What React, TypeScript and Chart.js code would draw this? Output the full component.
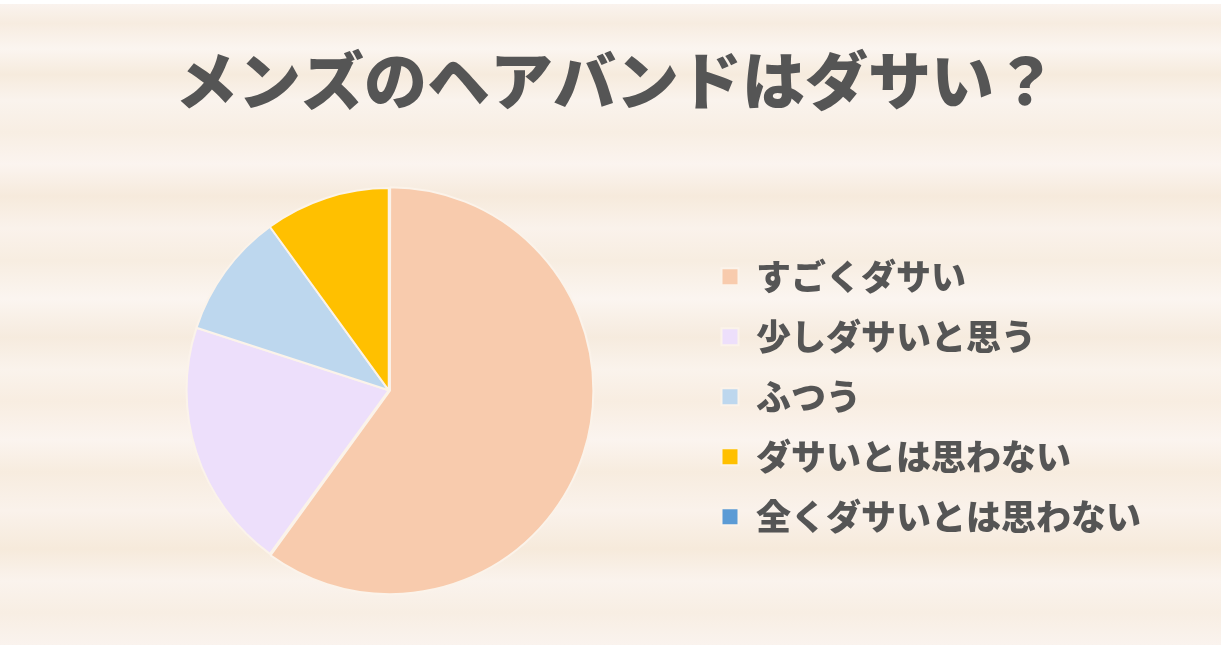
import React, { useEffect, useRef } from "react";
import { Chart, registerables } from "chart.js";

Chart.register(...registerables);

const titleText = "メンズのヘアバンドはダサい？";
const categories = [
  "すごくダサい",
  "少しダサいと思う",
  "ふつう",
  "ダサいとは思わない",
  "全くダサいとは思わない",
];
const values = [60, 20, 10, 10, 0];
const sliceColors = ["#F8CBAD", "#EDDFFB", "#BDD7EE", "#FFC000", "#5B9BD5"];
const sliceOffsets = [5, 0, 0, 0, 0];

const FONT = "'Noto Sans CJK JP', 'Noto Sans', sans-serif";

const woodBackground = {
  id: "woodBackground",
  beforeDraw(chart: any) {
    const { ctx, width, height } = chart;
    ctx.save();
    ctx.fillStyle = "#ffffff";
    ctx.fillRect(0, 0, width, height);
    const top = 4;
    const bottom = height - 5;
    const right = width - 7;
    const g = ctx.createLinearGradient(0, top, 0, bottom);
    const stops = [
      [0, "#FAF3EE"], [0.03, "#F7ECE0"], [0.07, "#FBF5F0"], [0.11, "#F6EBDD"],
      [0.15, "#FAF3ED"], [0.2, "#F8EEE3"], [0.25, "#FBF4EF"], [0.3, "#F6EADC"],
      [0.35, "#FAF2EB"], [0.4, "#F7EDE1"], [0.46, "#FBF5F0"], [0.52, "#F6EBDE"],
      [0.57, "#FAF3EC"], [0.62, "#F8EDE1"], [0.68, "#FBF4EF"], [0.73, "#F7ECDF"],
      [0.79, "#FAF2EB"], [0.85, "#F6EADB"], [0.9, "#FAF3ED"], [0.95, "#F8EEE3"],
      [1, "#FAF3EE"],
    ];
    stops.forEach(([o, c]) => g.addColorStop(o as number, c as string));
    ctx.fillStyle = g;
    ctx.fillRect(0, top, right, bottom - top);
    ctx.restore();
  },
};

export default function App() {
  const ref = useRef<HTMLCanvasElement | null>(null);
  useEffect(() => {
    if (!ref.current) return;
    const chart = new Chart(ref.current, {
      type: "pie",
      data: {
        labels: categories,
        datasets: [
          {
            data: values,
            backgroundColor: sliceColors,
            borderColor: "#FBF3EA",
            borderWidth: 2,
            offset: sliceOffsets,
          },
        ],
      },
      options: {
        responsive: false,
        animation: false,
        layout: { padding: { left: 81, right: 77, top: 0, bottom: 54 } },
        plugins: {
          title: {
            display: true,
            text: titleText,
            color: "#555555",
            font: { family: FONT, size: 63, weight: "900" as any, lineHeight: 1.2 },
            padding: { top: 42, bottom: 67 },
          },
          legend: {
            position: "right",
            align: "center",
            fullSize: false,
            title: {
              display: true,
              text: " ",
              font: { size: 1, lineHeight: 1 },
              padding: { top: 12, bottom: 0 },
            },
            labels: {
              color: "#555555",
              font: { family: FONT, size: 35, weight: "900" as any },
              boxWidth: 17,
              boxHeight: 17,
              padding: 25,
            },
          },
          tooltip: { enabled: false },
        },
      },
      plugins: [woodBackground],
    });
    return () => chart.destroy();
  }, []);
  return (
    <div style={{ position: "absolute", left: 0, top: 0, width: 1228, height: 650 }}>
      <canvas ref={ref} width={1228} height={650} style={{ display: "block" }} />
    </div>
  );
}
